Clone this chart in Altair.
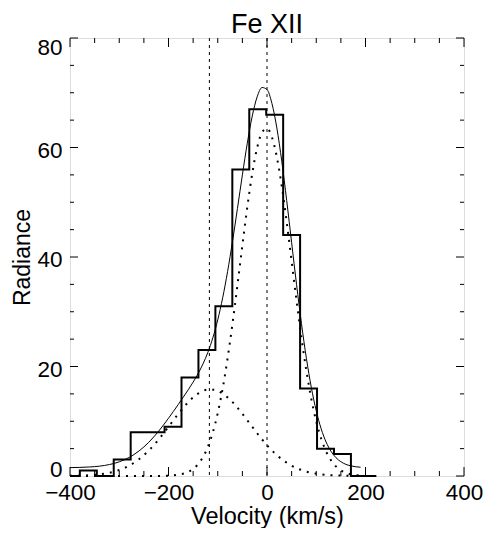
import altair as alt
import pandas as pd

# ---------------- data ----------------
# histogram (bin centres, km/s) and radiance values
hist_v = [-397.2, -362.8, -328.4, -294.0, -259.6, -225.2, -190.8, -156.4, -122.0,
          -87.6, -53.2, -18.8, 15.6, 50.0, 84.4, 118.8, 153.2, 187.6, 222.0]
hist_r = [0, 1, 0, 3, 8, 8, 9, 18, 23, 31, 56, 67, 66, 44, 16, 5, 4, 0, 0]

# velocity grid on which the fitted curves were read
fit_v = [-400, -380, -360, -340, -320, -300, -280, -260, -240, -220, -200, -180, -160,
         -150, -140, -130, -120, -110, -100, -90, -80, -70, -60, -50, -40, -30, -20, -10,
         0, 10, 20, 30, 40, 50, 60, 70, 80, 90, 100, 110, 120, 130, 140, 150, 160, 170,
         180, 190]
# total fit (thin solid)
fit_total = [1.53, 1.57, 1.65, 1.80, 2.09, 2.59, 3.38, 4.56, 6.16, 8.19, 10.55, 13.09,
             15.74, 17.15, 18.69, 20.47, 22.60, 25.23, 28.52, 32.55, 37.36, 42.87, 48.86,
             55.00, 60.78, 65.72, 69.25, 70.96, 70.58, 68.05, 63.56, 57.48, 50.31, 42.62,
             34.98, 27.82, 21.49, 16.17, 11.90, 8.61, 6.20, 4.51, 3.35, 2.61, 2.13, 1.86,
             1.69, 1.60]
# narrow component (dotted)
fit_narrow = [0, 0, 0, 0, 0, 0, 0, 0, 0, 0.01, 0.06, 0.23, 0.75, 1.29, 2.14, 3.44, 5.33,
              7.96, 11.49, 16.00, 21.50, 27.88, 34.89, 42.14, 49.10, 55.23, 59.94, 62.78,
              63.46, 61.89, 58.26, 52.92, 46.39, 39.24, 32.04, 25.23, 19.18, 14.08, 9.97,
              6.81, 4.49, 2.86, 1.75, 1.04, 0.59, 0.33, 0.17, 0.09]
# broad blue-shifted component (dotted)
fit_broad = [0.03, 0.07, 0.15, 0.30, 0.59, 1.09, 1.88, 3.06, 4.66, 6.68, 8.99, 11.36,
             13.49, 14.36, 15.05, 15.53, 15.77, 15.77, 15.53, 15.05, 14.36, 13.49, 12.47,
             11.36, 10.18, 8.99, 7.81, 6.68, 5.62, 4.66, 3.80, 3.06, 2.42, 1.88, 1.44,
             1.09, 0.81, 0.59, 0.43, 0.30, 0.21, 0.15, 0.10, 0.07, 0.04, 0.03, 0.02, 0.01]
# reference velocities (vertical dotted lines)
ref_v = [-117, 0]

x_major = [-400, -200, 0, 200, 400]
x_minor = [-350, -300, -250, -150, -100, -50, 50, 100, 150, 250, 300, 350]
y_major = [0, 20, 40, 60, 80]
y_minor = [5, 10, 15, 25, 30, 35, 45, 50, 55, 65, 70, 75]

title_text = "Fe XII"
x_title = "Velocity (km/s)"
y_title = "Radiance"

# ---------------- chart ----------------
W, H = 394, 438
FONT = "Liberation Sans"

xs = alt.Scale(domain=[-400, 400], nice=False, zero=False)
ys = alt.Scale(domain=[0, 80], nice=False, zero=False)

xax = alt.Axis(values=x_major, title=x_title, format="d", domain=False, grid=False,
               ticks=False, tickSize=0, labelFlush=False, labelOverlap=False,
               labelBaseline="alphabetic", labelPadding=23, labelFont=FONT,
               labelFontSize=22.5, labelColor="black", titleFont=FONT, titleFontSize=23.5,
               titleFontWeight="normal", titleColor="black", titleBaseline="alphabetic",
               titleY=47, titleX=W / 2)
yax = alt.Axis(values=y_major, title=y_title, format="d", domain=False, grid=False,
               ticks=False, tickSize=0, labelFlush=False, labelOverlap=False,
               labelBaseline="alphabetic", labelPadding=8, labelAlign="right",
               labelOffset={"condition": [{"test": "datum.value == 80", "value": 16},
                                          {"test": "datum.value == 0", "value": 0}],
                            "value": 9.5},
               labelFont=FONT, labelFontSize=22.5, labelColor="black", titleFont=FONT,
               titleFontSize=23, titleFontWeight="normal", titleColor="black",
               titleBaseline="alphabetic", titleAngle=270, titleAlign="center",
               titleX=-41, titleY=H / 2)

X = alt.X("v:Q", scale=xs, axis=xax)
Y = alt.Y("r:Q", scale=ys, axis=yax)

hist_df = pd.DataFrame({"v": hist_v, "r": hist_r})
tot_df = pd.DataFrame({"v": fit_v, "r": fit_total})
nar_df = pd.DataFrame({"v": fit_v, "r": fit_narrow})
bro_df = pd.DataFrame({"v": fit_v, "r": fit_broad})
ref_df = pd.DataFrame({"v": ref_v})
ttl_df = pd.DataFrame({"t": [title_text]})

hist = alt.Chart(hist_df).mark_line(interpolate="step", color="black", strokeWidth=2).encode(x=X, y=Y)
total = alt.Chart(tot_df).mark_line(interpolate="monotone", color="black", strokeWidth=1).encode(x=X, y=Y)
narrow = alt.Chart(nar_df).mark_line(interpolate="monotone", color="black", strokeWidth=2,
                                     strokeDash=[2, 6]).encode(x=X, y=Y)
broad = alt.Chart(bro_df).mark_line(interpolate="monotone", color="black", strokeWidth=2,
                                    strokeDash=[2, 6]).encode(x=X, y=Y)
refs = alt.Chart(ref_df).mark_rule(color="black", strokeWidth=1, strokeDash=[3, 4]).encode(x=X)
title = alt.Chart(ttl_df).mark_text(font=FONT, fontSize=27, color="black", align="center",
                                    baseline="alphabetic").encode(
    text="t:N", x=alt.value(W / 2), y=alt.value(-5))

def xticks(vals, length):
    df = pd.DataFrame({"v": vals})
    bot = alt.Chart(df).mark_rule(color="black", strokeWidth=1).encode(
        x=X, y=alt.value(H), y2=alt.value(H - length))
    top = alt.Chart(df).mark_rule(color="black", strokeWidth=1).encode(
        x=X, y=alt.value(0), y2=alt.value(length))
    return [bot, top]

def yticks(vals, length):
    df = pd.DataFrame({"r": vals})
    left = alt.Chart(df).mark_rule(color="black", strokeWidth=1).encode(
        y=Y, x=alt.value(0), x2=alt.value(length))
    right = alt.Chart(df).mark_rule(color="black", strokeWidth=1).encode(
        y=Y, x=alt.value(W), x2=alt.value(W - length))
    return [left, right]

layers = [refs, broad, narrow, total, hist]
layers += xticks(x_major, 9) + xticks(x_minor, 5) + yticks(y_major, 8) + yticks(y_minor, 4)
layers += [title]

chart = alt.layer(*layers).properties(
    width=W, height=H,
    autosize=alt.AutoSizeParams(type="none"),
    padding={"left": 62, "top": 30, "right": 20, "bottom": 52},
).configure_view(stroke="black", strokeWidth=1).configure(background="white")

chart.save("out.html", embed_options={"renderer": "svg", "actions": False})
